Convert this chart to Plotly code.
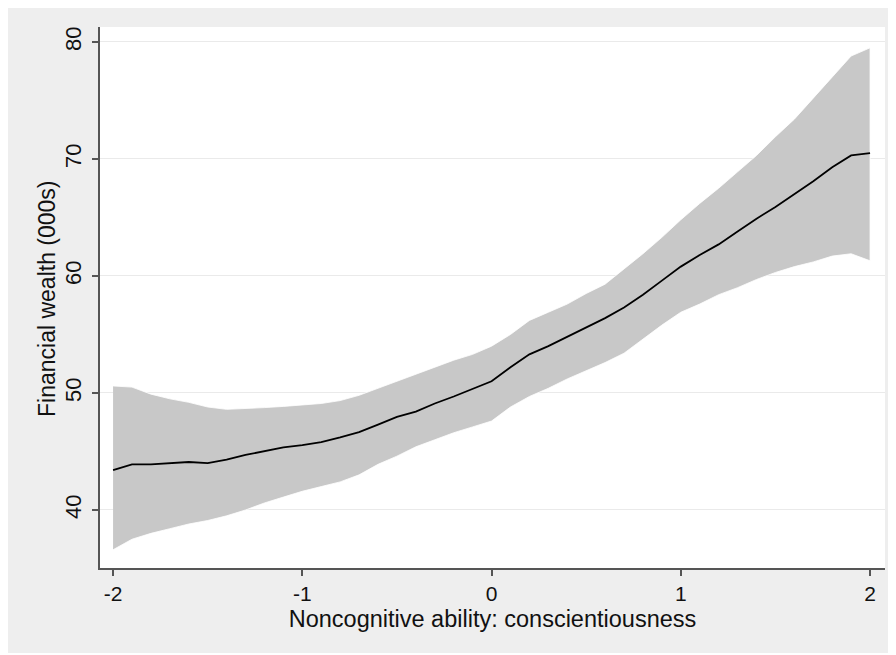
import plotly.graph_objects as go

x_vals = [-2.0, -1.9, -1.8, -1.7, -1.6, -1.5, -1.4, -1.3, -1.2, -1.1, -1.0,
          -0.9, -0.8, -0.7, -0.6, -0.5, -0.4, -0.3, -0.2, -0.1, 0.0,
          0.1, 0.2, 0.3, 0.4, 0.5, 0.6, 0.7, 0.8, 0.9, 1.0,
          1.1, 1.2, 1.3, 1.4, 1.5, 1.6, 1.7, 1.8, 1.9, 2.0]

wealth_fit = [43.4, 43.9, 43.9, 44.0, 44.1, 44.0, 44.3, 44.7, 45.0, 45.35, 45.55,
              45.8, 46.2, 46.65, 47.3, 47.95, 48.4, 49.1, 49.7, 50.35, 51.0,
              52.2, 53.3, 54.0, 54.8, 55.55, 56.4, 57.3, 58.4, 59.6, 60.8,
              61.8, 62.7, 63.8, 64.9, 65.9, 67.0, 68.1, 69.3, 70.3, 70.5]

ci_upper = [50.6, 50.5, 49.9, 49.5, 49.2, 48.8, 48.6, 48.65, 48.75, 48.85, 48.95,
            49.1, 49.35, 49.8, 50.4, 51.0, 51.6, 52.2, 52.8, 53.3, 54.0,
            55.0, 56.2, 56.9, 57.6, 58.5, 59.3, 60.6, 61.9, 63.3, 64.8,
            66.2, 67.5, 68.9, 70.3, 71.9, 73.4, 75.2, 77.0, 78.8, 79.5]

ci_lower = [36.6, 37.5, 38.0, 38.4, 38.8, 39.1, 39.5, 40.0, 40.6, 41.1, 41.6,
            42.0, 42.4, 43.0, 43.9, 44.6, 45.4, 46.0, 46.6, 47.1, 47.6,
            48.8, 49.7, 50.4, 51.2, 51.9, 52.6, 53.4, 54.6, 55.8, 56.9,
            57.6, 58.4, 59.0, 59.7, 60.3, 60.8, 61.2, 61.7, 61.9, 61.3]

x_ticks = [-2, -1, 0, 1, 2]
y_ticks = [40, 50, 60, 70, 80]
x_title = "Noncognitive ability: conscientiousness"
y_title = "Financial wealth (000s)"

fig = go.Figure()
fig.add_trace(go.Scatter(
    x=x_vals + x_vals[::-1],
    y=ci_upper + ci_lower[::-1],
    fill="toself", fillcolor="rgb(200,200,200)",
    line=dict(color="rgba(255,255,255,0.8)", width=1),
    mode="lines", hoverinfo="skip", showlegend=False))
fig.add_trace(go.Scatter(
    x=x_vals, y=wealth_fit, mode="lines",
    line=dict(color="black", width=1.8), showlegend=False))

# page has an 8px body margin, so the figure itself is 888x647
W, H = 888, 647
L, R, T, B = 92, 877, 19, 560
pw, ph = R - L, B - T

def px_to_paper_x(px):
    return (px - L) / pw

def py_to_paper_y(py):
    return (B - py) / ph

fig.add_shape(type="rect", xref="paper", yref="paper", layer="below",
              x0=px_to_paper_x(-2), x1=px_to_paper_x(880),
              y0=py_to_paper_y(645), y1=py_to_paper_y(-4),
              fillcolor="#eeeeee", line=dict(width=0))
fig.add_shape(type="rect", xref="paper", yref="paper", layer="below",
              x0=0, x1=1, y0=0, y1=1,
              fillcolor="white", line=dict(width=0))

font_family = "Liberation Sans, Arial, Helvetica, sans-serif"
fig.update_layout(
    width=W, height=H,
    margin=dict(l=L, r=W - R, t=T, b=H - B, autoexpand=False),
    paper_bgcolor="white", plot_bgcolor="white",
    font=dict(family=font_family, size=22, color="#111111"),
    showlegend=False,
)
fig.add_annotation(
    text=y_title, xref="paper", yref="paper",
    x=px_to_paper_x(39), y=py_to_paper_y(291),
    xanchor="center", yanchor="middle", textangle=-90,
    showarrow=False, font=dict(size=23, color="#111111"))
fig.update_xaxes(
    range=[-2.069, 2.079], tickvals=x_ticks, ticktext=[str(v) for v in x_ticks],
    showgrid=False, zeroline=False, automargin=False,
    showline=True, linecolor="#555555", linewidth=2,
    ticks="outside", ticklen=6, tickcolor="#555555", tickwidth=1.5,
    tickfont=dict(size=21),
    title=dict(text=x_title, font=dict(size=23.5), standoff=6),
)
fig.update_yaxes(
    range=[35.04, 81.28], tickvals=y_ticks, ticktext=[str(v) for v in y_ticks],
    showgrid=True, gridcolor="#eaeaea", gridwidth=1, zeroline=False, automargin=False,
    showline=True, linecolor="#555555", linewidth=2,
    ticks="outside", ticklen=6, tickcolor="#555555", tickwidth=1.5,
    tickangle=-90, tickfont=dict(size=22), ticklabelstandoff=2,
)

fig.write_html("out.html")
